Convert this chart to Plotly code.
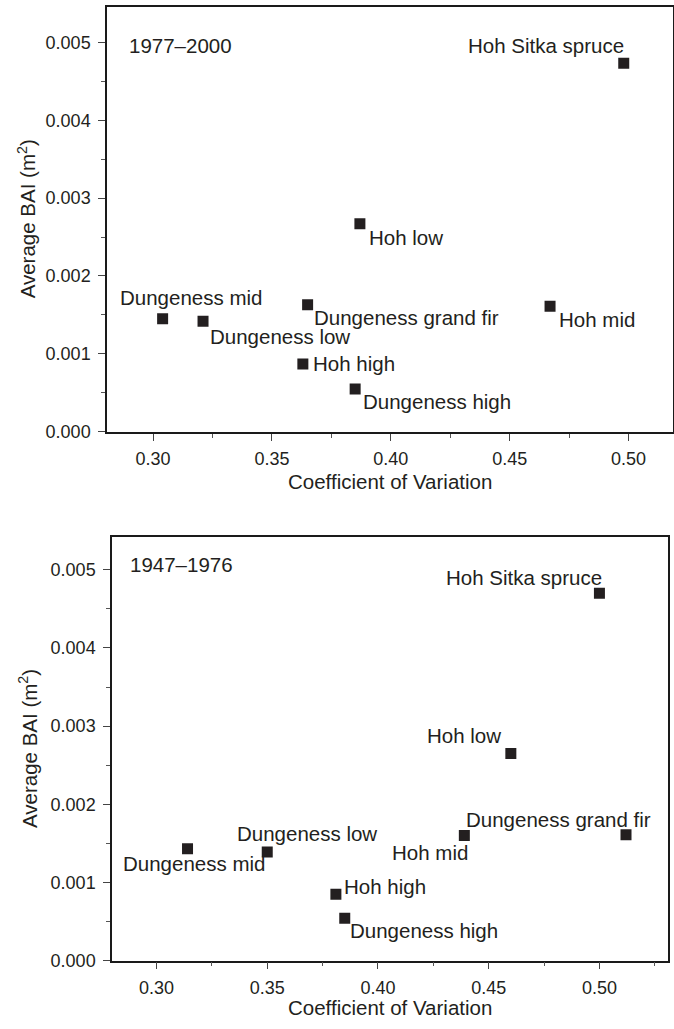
import plotly.graph_objects as go

# ---------------- data ----------------
sites = ["Hoh Sitka spruce", "Hoh low", "Dungeness mid", "Dungeness low",
         "Dungeness grand fir", "Hoh mid", "Hoh high", "Dungeness high"]

# 1977-2000 panel
cv_1977 = [0.498, 0.387, 0.304, 0.321, 0.365, 0.467, 0.363, 0.385]
bai_1977 = [0.00473, 0.00267, 0.00145, 0.00142, 0.00163, 0.00161, 0.00087, 0.00055]

# 1947-1976 panel
cv_1947 = [0.500, 0.460, 0.314, 0.350, 0.512, 0.439, 0.381, 0.385]
bai_1947 = [0.00470, 0.00265, 0.00143, 0.00139, 0.00161, 0.00160, 0.00085, 0.00054]

period_top = "1977–2000"
period_bottom = "1947–1976"
x_title = "Coefficient of Variation"
y_title = "Average BAI (m<sup>2</sup>)"

# ---------------- styles ----------------
FONT = "Liberation Sans, Arial, Helvetica, sans-serif"
TXT = "#231f20"
LABEL_SIZE = 20.5
TICK_SIZE = 18

# label placement: (xanchor, x shift px, y shift px downward)
lab_top = {
    "Hoh Sitka spruce": ("right", 2, -18),
    "Hoh low": ("left", 7, 14),
    "Dungeness mid": ("left", -45, -21),
    "Dungeness low": ("left", 5, 15),
    "Dungeness grand fir": ("left", 4, 12.5),
    "Hoh mid": ("left", 7, 13.3),
    "Hoh high": ("left", 8.5, 0),
    "Dungeness high": ("left", 6, 12.7),
}
lab_bottom = {
    "Hoh Sitka spruce": ("right", 5, -15.5),
    "Hoh low": ("right", -7.5, -18.2),
    "Dungeness grand fir": ("right", 27, -15.4),
    "Hoh mid": ("right", 6, 17),
    "Dungeness mid": ("left", -67, 14.8),
    "Dungeness low": ("left", -32, -18.9),
    "Hoh high": ("left", 6.5, -7.4),
    "Dungeness high": ("left", 3, 11.8),
}

W, H = 674, 1029
fig = go.Figure()

for xs, ys, ax in [(cv_1977, bai_1977, ""), (cv_1947, bai_1947, "2")]:
    fig.add_trace(go.Scatter(
        x=xs, y=ys, mode="markers", text=sites,
        xaxis="x" + ax, yaxis="y" + ax,
        marker=dict(symbol="square", size=11, color=TXT, line=dict(width=0)),
        hovertemplate="%{text}<br>CV=%{x}<br>BAI=%{y}<extra></extra>",
        showlegend=False,
    ))

annotations = []
for xs, ys, ax, spec in [(cv_1977, bai_1977, "", lab_top), (cv_1947, bai_1947, "2", lab_bottom)]:
    for name, xv, yv in zip(sites, xs, ys):
        anc, dx, dy = spec[name]
        annotations.append(dict(
            x=xv, y=yv, xref="x" + ax, yref="y" + ax, text=name, showarrow=False,
            xanchor=anc, yanchor="middle", xshift=dx, yshift=-dy,
            font=dict(family=FONT, size=LABEL_SIZE, color=TXT),
        ))

# period labels and axis titles
for ax, period, px, py, tdy, ydx in [("", period_top, 20, 38.5, 50, 80),
                                     ("2", period_bottom, 15.5, 27, 47, 84)]:
    xd = ("x" + ax) + " domain" if ax else "x domain"
    yd = ("y" + ax) + " domain" if ax else "y domain"
    annotations.append(dict(x=0, y=1, xref=xd, yref=yd, text=period, showarrow=False,
                            xanchor="left", yanchor="middle", xshift=px, yshift=-py,
                            font=dict(family=FONT, size=LABEL_SIZE, color=TXT)))
    annotations.append(dict(x=0.5, y=0, xref=xd, yref=yd, text=x_title, showarrow=False,
                            xanchor="center", yanchor="middle", yshift=-tdy,
                            font=dict(family=FONT, size=LABEL_SIZE, color=TXT)))
    annotations.append(dict(x=0, y=0.5, xref=xd, yref=yd, text=y_title, showarrow=False,
                            xanchor="center", yanchor="middle", xshift=-ydx, textangle=-90,
                            font=dict(family=FONT, size=LABEL_SIZE, color=TXT)))

def xaxis(domain, rng, anchor):
    return dict(domain=domain, range=rng, anchor=anchor,
                showline=True, linecolor="#1a1a1a", linewidth=1.5, mirror=True,
                showgrid=False, zeroline=False,
                ticks="outside", ticklen=7, tickwidth=1.2, tickcolor="#444",
                tick0=0, dtick=0.05, tickformat=".2f", ticklabelstandoff=3,
                minor=dict(ticks="outside", ticklen=4, tickwidth=1.2, tickcolor="#555",
                           dtick=0.025, tick0=0, showgrid=False),
                tickfont=dict(family=FONT, size=TICK_SIZE, color=TXT))

def yaxis(domain, rng, anchor):
    return dict(domain=domain, range=rng, anchor=anchor,
                showline=True, linecolor="#1a1a1a", linewidth=1.5, mirror=True,
                showgrid=False, zeroline=False,
                ticks="outside", ticklen=7, tickwidth=1.2, tickcolor="#444",
                tick0=0, dtick=0.001, tickformat=".3f", ticklabelstandoff=4,
                minor=dict(ticks="outside", ticklen=4, tickwidth=1.2, tickcolor="#555",
                           dtick=0.0005, tick0=0, showgrid=False),
                tickfont=dict(family=FONT, size=TICK_SIZE, color=TXT))

fig.update_layout(
    width=W, height=H,
    margin=dict(l=0, r=0, t=0, b=0),
    paper_bgcolor="white", plot_bgcolor="white",
    xaxis=xaxis([107 / W, 672.7 / W], [0.2806, 0.5186], "y"),
    yaxis=yaxis([1 - 436 / H, 1 - 7 / H], [0, 0.005454], "x"),
    xaxis2=xaxis([112 / W, 668.3 / W], [0.2799, 0.5311], "y2"),
    yaxis2=yaxis([1 - 970 / H, 1 - 542.7 / H], [0, 0.005414], "x2"),
    annotations=annotations,
    font=dict(family=FONT, color=TXT),
)

fig.write_html("out.html")
